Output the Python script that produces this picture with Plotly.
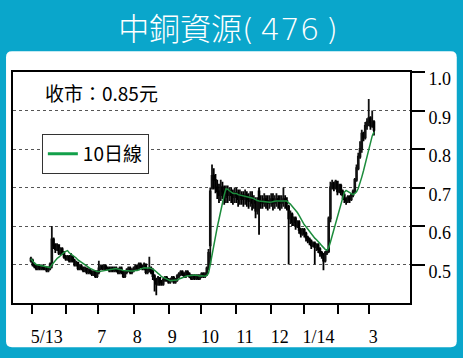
import plotly.graph_objects as go
import pandas as pd

title_text = "中銅資源(\u2009476\u2009)"
close_label = "收市：0.85元"
ma_name = "10日線"

day_open = [
    0.51, 0.51, 0.50, 0.495, 0.49, 0.495, 0.49, 0.495, 0.49, 0.49,
    0.485, 0.49, 0.50, 0.565, 0.55, 0.54, 0.55, 0.53, 0.54, 0.53,
    0.52, 0.515, 0.52, 0.51, 0.52, 0.51, 0.50, 0.505, 0.49, 0.495,
    0.49, 0.485, 0.49, 0.48, 0.485, 0.48, 0.475, 0.48, 0.47, 0.48,
    0.49, 0.495, 0.49, 0.495, 0.49, 0.49, 0.485, 0.49, 0.485, 0.49,
    0.485, 0.48, 0.49, 0.48, 0.47, 0.48, 0.485, 0.49, 0.48, 0.485,
    0.49, 0.495, 0.49, 0.50, 0.495, 0.49, 0.50, 0.48, 0.485, 0.49,
    0.485, 0.47, 0.46, 0.45, 0.465, 0.455, 0.45, 0.46, 0.465, 0.46,
    0.455, 0.46, 0.465, 0.455, 0.46, 0.47, 0.475, 0.48, 0.475, 0.47,
    0.48, 0.475, 0.47, 0.465, 0.47, 0.465, 0.47, 0.465, 0.47, 0.475,
    0.47, 0.475, 0.49, 0.55, 0.70, 0.73, 0.72, 0.70, 0.69, 0.68,
    0.70, 0.69, 0.675, 0.69, 0.68, 0.69, 0.68, 0.675, 0.685, 0.68,
    0.67, 0.68, 0.675, 0.67, 0.68, 0.67, 0.665, 0.675, 0.66, 0.665,
    0.64, 0.69, 0.665, 0.665, 0.66, 0.67, 0.665, 0.66, 0.665, 0.67,
    0.66, 0.665, 0.67, 0.665, 0.66, 0.665, 0.67, 0.665, 0.65, 0.62,
    0.63, 0.61, 0.62, 0.60, 0.61, 0.59, 0.58, 0.59, 0.58, 0.57,
    0.565, 0.56, 0.55, 0.555, 0.545, 0.55, 0.54, 0.53, 0.525, 0.51,
    0.53, 0.535, 0.62, 0.70, 0.71, 0.70, 0.715, 0.69, 0.705, 0.69,
    0.68, 0.67, 0.665, 0.675, 0.67, 0.68, 0.69, 0.72, 0.75, 0.78,
    0.80, 0.84, 0.83, 0.86, 0.87, 0.88, 0.86, 0.87,
]
day_high = [
    0.52, 0.515, 0.505, 0.50, 0.50, 0.50, 0.50, 0.50, 0.495, 0.495,
    0.495, 0.505, 0.60, 0.57, 0.555, 0.555, 0.55, 0.545, 0.545, 0.535,
    0.525, 0.525, 0.525, 0.53, 0.52, 0.515, 0.51, 0.505, 0.50, 0.50,
    0.495, 0.495, 0.49, 0.49, 0.49, 0.485, 0.485, 0.485, 0.485, 0.51,
    0.50, 0.50, 0.50, 0.50, 0.495, 0.495, 0.495, 0.495, 0.495, 0.495,
    0.49, 0.495, 0.495, 0.485, 0.485, 0.49, 0.495, 0.495, 0.49, 0.495,
    0.50, 0.50, 0.505, 0.505, 0.50, 0.505, 0.50, 0.49, 0.52, 0.495,
    0.49, 0.475, 0.465, 0.47, 0.465, 0.46, 0.465, 0.47, 0.47, 0.465,
    0.465, 0.47, 0.47, 0.465, 0.475, 0.48, 0.485, 0.485, 0.48, 0.485,
    0.485, 0.48, 0.475, 0.475, 0.475, 0.475, 0.475, 0.475, 0.48, 0.48,
    0.48, 0.495, 0.54, 0.70, 0.76, 0.75, 0.735, 0.72, 0.71, 0.72,
    0.715, 0.705, 0.705, 0.705, 0.70, 0.70, 0.695, 0.70, 0.70, 0.695,
    0.695, 0.69, 0.69, 0.695, 0.69, 0.685, 0.69, 0.69, 0.68, 0.675,
    0.675, 0.70, 0.68, 0.68, 0.685, 0.68, 0.68, 0.68, 0.685, 0.685,
    0.68, 0.685, 0.68, 0.68, 0.68, 0.70, 0.68, 0.675, 0.655, 0.64,
    0.635, 0.625, 0.625, 0.615, 0.615, 0.595, 0.595, 0.595, 0.585, 0.575,
    0.57, 0.565, 0.56, 0.56, 0.555, 0.555, 0.545, 0.535, 0.53, 0.535,
    0.54, 0.625, 0.715, 0.72, 0.715, 0.72, 0.715, 0.71, 0.71, 0.695,
    0.685, 0.675, 0.68, 0.68, 0.685, 0.695, 0.725, 0.76, 0.79, 0.82,
    0.85, 0.845, 0.87, 0.88, 0.93, 0.885, 0.90, 0.875,
]
day_low = [
    0.505, 0.495, 0.49, 0.485, 0.485, 0.485, 0.485, 0.485, 0.485, 0.48,
    0.48, 0.485, 0.49, 0.54, 0.53, 0.535, 0.525, 0.525, 0.525, 0.515,
    0.51, 0.51, 0.505, 0.505, 0.505, 0.495, 0.495, 0.485, 0.485, 0.485,
    0.48, 0.48, 0.475, 0.475, 0.475, 0.47, 0.47, 0.465, 0.465, 0.475,
    0.485, 0.485, 0.485, 0.485, 0.485, 0.48, 0.48, 0.48, 0.48, 0.48,
    0.475, 0.475, 0.475, 0.465, 0.465, 0.475, 0.48, 0.475, 0.475, 0.48,
    0.485, 0.485, 0.485, 0.49, 0.485, 0.485, 0.475, 0.475, 0.48, 0.475,
    0.46, 0.43, 0.42, 0.445, 0.445, 0.445, 0.445, 0.455, 0.455, 0.45,
    0.45, 0.455, 0.45, 0.45, 0.455, 0.465, 0.47, 0.47, 0.465, 0.465,
    0.47, 0.465, 0.46, 0.46, 0.46, 0.46, 0.46, 0.46, 0.465, 0.465,
    0.465, 0.47, 0.485, 0.50, 0.695, 0.695, 0.685, 0.67, 0.66, 0.665,
    0.67, 0.655, 0.66, 0.66, 0.665, 0.66, 0.655, 0.66, 0.66, 0.65,
    0.655, 0.655, 0.65, 0.655, 0.65, 0.645, 0.65, 0.64, 0.645, 0.62,
    0.63, 0.577, 0.645, 0.645, 0.65, 0.645, 0.64, 0.645, 0.65, 0.64,
    0.645, 0.65, 0.645, 0.64, 0.645, 0.65, 0.645, 0.64, 0.50, 0.605,
    0.60, 0.60, 0.59, 0.595, 0.58, 0.57, 0.575, 0.57, 0.56, 0.555,
    0.55, 0.54, 0.545, 0.50, 0.535, 0.53, 0.52, 0.515, 0.485, 0.505,
    0.525, 0.53, 0.61, 0.695, 0.69, 0.695, 0.68, 0.685, 0.68, 0.67,
    0.66, 0.655, 0.66, 0.66, 0.665, 0.675, 0.685, 0.715, 0.745, 0.775,
    0.79, 0.82, 0.825, 0.85, 0.86, 0.85, 0.855, 0.835,
]
day_close = [
    0.515, 0.50, 0.495, 0.49, 0.495, 0.49, 0.495, 0.49, 0.49, 0.485,
    0.49, 0.50, 0.565, 0.55, 0.54, 0.55, 0.53, 0.54, 0.53, 0.52,
    0.515, 0.52, 0.51, 0.52, 0.51, 0.50, 0.505, 0.49, 0.495, 0.49,
    0.485, 0.49, 0.48, 0.485, 0.48, 0.475, 0.48, 0.47, 0.48, 0.49,
    0.495, 0.49, 0.495, 0.49, 0.49, 0.485, 0.49, 0.485, 0.49, 0.485,
    0.48, 0.49, 0.48, 0.47, 0.48, 0.485, 0.49, 0.48, 0.485, 0.49,
    0.495, 0.49, 0.50, 0.495, 0.49, 0.50, 0.48, 0.485, 0.49, 0.48,
    0.47, 0.46, 0.45, 0.465, 0.455, 0.45, 0.46, 0.465, 0.46, 0.455,
    0.46, 0.465, 0.455, 0.46, 0.47, 0.475, 0.48, 0.475, 0.47, 0.48,
    0.475, 0.47, 0.465, 0.47, 0.465, 0.47, 0.465, 0.47, 0.475, 0.47,
    0.475, 0.49, 0.53, 0.69, 0.73, 0.72, 0.70, 0.69, 0.68, 0.70,
    0.69, 0.675, 0.69, 0.68, 0.69, 0.68, 0.675, 0.685, 0.68, 0.67,
    0.68, 0.675, 0.67, 0.68, 0.67, 0.665, 0.675, 0.66, 0.665, 0.64,
    0.66, 0.665, 0.665, 0.66, 0.67, 0.665, 0.66, 0.665, 0.67, 0.66,
    0.665, 0.67, 0.665, 0.66, 0.665, 0.67, 0.665, 0.66, 0.62, 0.63,
    0.61, 0.62, 0.60, 0.61, 0.59, 0.58, 0.59, 0.58, 0.57, 0.565,
    0.56, 0.55, 0.555, 0.545, 0.55, 0.54, 0.53, 0.525, 0.51, 0.53,
    0.535, 0.62, 0.70, 0.71, 0.70, 0.715, 0.69, 0.705, 0.69, 0.68,
    0.67, 0.665, 0.675, 0.67, 0.68, 0.69, 0.72, 0.75, 0.78, 0.80,
    0.84, 0.83, 0.86, 0.87, 0.88, 0.86, 0.87, 0.85,
]

# month boundaries (trading-day index) and month labels
month_tick_pos = [0.6, 20, 38.3, 59.4, 79.4, 97.7, 117.7, 137.7, 156.6, 176.6, 194.3]
month_label_pos = [9.1, 40.6, 61.1, 81.1, 102.9, 122.9, 142.9, 165.1, 196.6]
month_label_text = ["5/13", "7", "8", "9", "10", "11", "12", "1/14", "3"]
price_ticks = [0.5, 0.6, 0.7, 0.8, 0.9, 1.0]
price_tick_text = ["0.5", "0.6", "0.7", "0.8", "0.9", "1.0"]

days = list(range(len(day_close)))
ma10 = pd.Series(day_close).rolling(10, min_periods=1).mean().tolist()

W, H = 463, 358
ML, MR, MT, MB = 11, 53, 72, 51
PW, PH = W - ML - MR, H - MT - MB


def px_x(p):
    return (p - ML) / PW


def px_y(p):
    return (H - MB - p) / PH


x_range = [-10.3, 217.7]
y_range = [0.4, 1.0]

TEAL = "#0aa6cb"
SERIF = "Liberation Serif, Times New Roman, Times, serif"
CJK = "Noto Sans CJK TC"
TITLE_FONT = "DejaVu Sans, Noto Sans CJK TC"

fig = go.Figure()
fig.add_trace(go.Candlestick(
    x=days, open=day_open, high=day_high, low=day_low, close=day_close,
    increasing=dict(line=dict(color="#111111", width=1.8), fillcolor="#111111"),
    decreasing=dict(line=dict(color="#000000", width=1.8), fillcolor="#000000"),
    whiskerwidth=0, showlegend=False, hoverinfo="skip",
))
fig.add_trace(go.Scatter(
    x=days, y=ma10, mode="lines", line=dict(color="#1c8c3c", width=1.5),
    showlegend=False, hoverinfo="skip",
))
# legend entry for the MA line
fig.add_trace(go.Scatter(
    x=[None], y=[None], mode="lines", line=dict(color="#12a04a", width=3),
    name=ma_name, showlegend=True,
))
# carrier for month tick marks axis
fig.add_trace(go.Scatter(
    x=[days[0], days[-1]], y=[day_close[0], day_close[-1]], xaxis="x2",
    mode="markers", marker=dict(opacity=0), showlegend=False, hoverinfo="skip",
))

# white rounded panel
x0, x1 = px_x(4), px_x(457)
y0, y1 = px_y(352), px_y(51)
rx, ry = 6 / PW, 6 / PH
panel = (f"M {x0+rx},{y1} L {x1-rx},{y1} Q {x1},{y1} {x1},{y1-ry} "
         f"L {x1},{y0+ry} Q {x1},{y0} {x1-rx},{y0} L {x0+rx},{y0} "
         f"Q {x0},{y0} {x0},{y0+ry} L {x0},{y1-ry} Q {x0},{y1} {x0+rx},{y1} Z")

fig.update_layout(
    width=W, height=H, autosize=False,
    margin=dict(l=ML, r=MR, t=MT, b=MB, pad=0),
    paper_bgcolor=TEAL, plot_bgcolor="white",
    shapes=[dict(type="path", path=panel, xref="paper", yref="paper",
                 fillcolor="white", line=dict(width=0), layer="below")],
    title=dict(text=title_text, x=228 / W, xref="container", xanchor="center",
               y=1 - 29 / H, yref="container", yanchor="middle",
               font=dict(family=TITLE_FONT, size=31, color="white", weight=300)),
    annotations=[dict(text=close_label, xref="paper", yref="paper",
                      x=px_x(41), y=px_y(93), xanchor="left", yanchor="middle",
                      showarrow=False, font=dict(family=CJK, size=19, color="black"))],
    legend=dict(x=px_x(40), y=px_y(135), xanchor="left", yanchor="top",
                bgcolor="white", bordercolor="#333333", borderwidth=1,
                font=dict(family=CJK, size=19, color="black")),
    xaxis=dict(range=x_range, tickvals=month_label_pos, ticktext=month_label_text,
               ticks="outside", ticklen=16, tickcolor="rgba(0,0,0,0)",
               showline=True, linecolor="black", linewidth=2, mirror=True,
               showgrid=False, zeroline=False, rangeslider=dict(visible=False),
               tickfont=dict(family=SERIF, size=18, color="black")),
    xaxis2=dict(range=x_range, overlaying="x", anchor="y", side="bottom",
                tickvals=month_tick_pos, ticks="outside", ticklen=10, tickwidth=2,
                tickcolor="black", showticklabels=False, showline=False,
                showgrid=False, zeroline=False),
    yaxis=dict(range=y_range, side="right", tickvals=price_ticks, ticktext=price_tick_text,
               ticks="outside", ticklen=13, tickwidth=2, tickcolor="black",
               showline=True, linecolor="black", linewidth=2, mirror=True,
               showgrid=True, gridcolor="#555555", gridwidth=1, griddash="dot",
               zeroline=False, ticklabelshift=7,
               tickfont=dict(family=SERIF, size=18, color="black")),
)

fig.write_html("out.html", config={"displayModeBar": False},
               post_script="document.body.style.margin='0';document.body.style.padding='0';")
